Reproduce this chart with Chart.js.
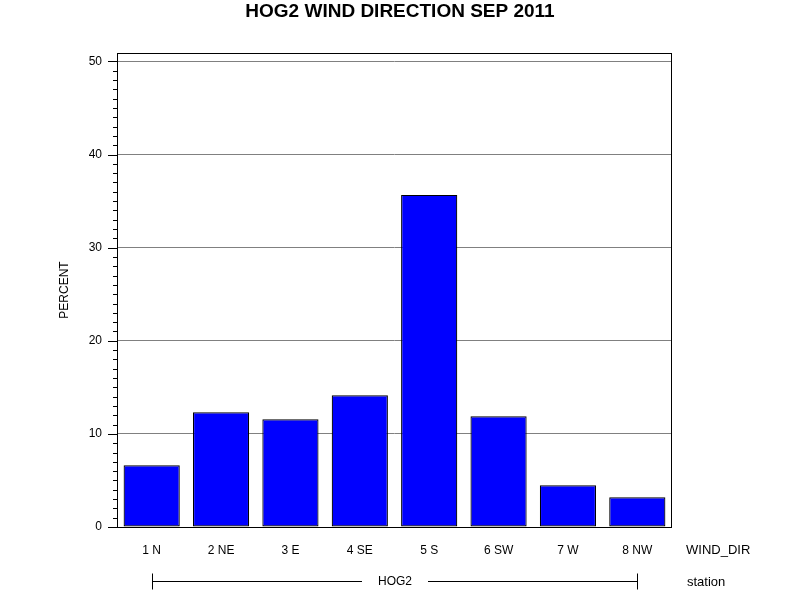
<!DOCTYPE html>
<html>
<head>
<meta charset="utf-8">
<script src="https://cdn.jsdelivr.net/npm/chart.js@4.4.1/dist/chart.umd.min.js"></script>
<style>
  html, body { margin: 0; padding: 0; background: #fff; }
  #wrap { width: 800px; height: 600px; }
</style>
</head>
<body>
<div id="wrap"><canvas id="c" width="800" height="600"></canvas></div>
<script>
const categories = ["1 N", "2 NE", "3 E", "4 SE", "5 S", "6 SW", "7 W", "8 NW"];
const percentValues = [6.63, 12.32, 11.57, 14.15, 35.66, 11.89, 4.48, 3.19];
const yTickMax = 50;
const yAxisTop = 50.9;
const titleText = "HOG2 WIND DIRECTION SEP 2011";
const yTitle = "PERCENT";
const xTitle = "WIND_DIR";
const groupTitle = "station";
const groupLabel = "HOG2";

const FONT = "'Liberation Sans', Arial, sans-serif";

const decor = {
  id: 'decor',
  afterDraw(chart) {
    const ctx = chart.ctx;
    const a = chart.chartArea;
    const x = chart.scales.x, y = chart.scales.y;
    ctx.save();
    ctx.strokeStyle = '#000';
    ctx.lineWidth = 1;
    ctx.strokeRect(Math.round(a.left) + 0.5, Math.round(a.top) + 0.5, Math.round(a.right - a.left) - 1, Math.round(a.bottom - a.top));
    for (let v = 0; v <= yTickMax; v += 1) {
      const py = Math.round(y.getPixelForValue(v)) + 0.5;
      const len = (v % 10 === 0) ? 9 : 4;
      ctx.beginPath();
      ctx.moveTo(a.left - len, py);
      ctx.lineTo(a.left, py);
      ctx.stroke();
    }
    ctx.fillStyle = '#000';
    ctx.font = "bold 19px " + FONT;
    ctx.textAlign = 'center';
    ctx.textBaseline = 'middle';
    ctx.fillText(titleText, 400, 12);
    ctx.font = "12px " + FONT;
    ctx.save();
    ctx.translate(65, (a.top + a.bottom) / 2);
    ctx.rotate(-Math.PI / 2);
    ctx.textAlign = 'center';
    ctx.textBaseline = 'middle';
    ctx.fillText(yTitle, 0, 0);
    ctx.restore();
    ctx.font = "13px " + FONT;
    ctx.textAlign = 'left';
    ctx.textBaseline = 'middle';
    ctx.fillText(xTitle, 686, 550);
    ctx.fillText(groupTitle, 687, 582);
    ctx.font = "12px " + FONT;
    const gx0 = Math.round(x.getPixelForValue(0)) + 0.5;
    const gx1 = Math.round(x.getPixelForValue(categories.length - 1)) + 0.5;
    const gy = 581.5;
    ctx.textAlign = 'center';
    const mid = (gx0 + gx1) / 2;
    const tw = ctx.measureText(groupLabel).width;
    ctx.fillText(groupLabel, mid, 582);
    ctx.beginPath();
    ctx.moveTo(gx0, gy); ctx.lineTo(mid - tw / 2 - 16, gy);
    ctx.moveTo(mid + tw / 2 + 16, gy); ctx.lineTo(gx1, gy);
    ctx.moveTo(gx0, gy - 8); ctx.lineTo(gx0, gy + 8);
    ctx.moveTo(gx1, gy - 8); ctx.lineTo(gx1, gy + 8);
    ctx.stroke();
    ctx.restore();
  }
};

new Chart(document.getElementById('c'), {
  type: 'bar',
  data: {
    labels: categories,
    datasets: [{
      data: percentValues,
      backgroundColor: '#0000ff',
      borderColor: '#000000',
      borderWidth: 1.2,
      borderSkipped: false,
      barPercentage: 0.81,
      categoryPercentage: 1.0
    }]
  },
  options: {
    responsive: false,
    animation: false,
    devicePixelRatio: 1,
    layout: { padding: { top: 53, left: 0, right: 128, bottom: 0 } },
    plugins: { legend: { display: false }, title: { display: false }, tooltip: { enabled: false } },
    scales: {
      x: {
        afterFit(s) { s.height = 73; },
        grid: { display: false, drawTicks: false },
        border: { display: false },
        ticks: { color: '#000', font: { family: FONT, size: 12 }, padding: 16, maxRotation: 0 }
      },
      y: {
        min: 0, max: yAxisTop,
        afterFit(s) { s.width = 117; },
        grid: {
          drawTicks: false,
          color: (c) => (c.tick && c.tick.value % 10 === 0 && c.tick.value !== 0) ? '#808080' : 'rgba(0,0,0,0)',
          lineWidth: 1
        },
        border: { display: false },
        ticks: {
          stepSize: 1,
          includeBounds: false,
          autoSkip: false,
          color: '#000',
          font: { family: FONT, size: 12 },
          padding: 15,
          callback: (v) => (v % 10 === 0 ? String(v) : '')
        }
      }
    }
  },
  plugins: [decor]
});
</script>
</body>
</html>
